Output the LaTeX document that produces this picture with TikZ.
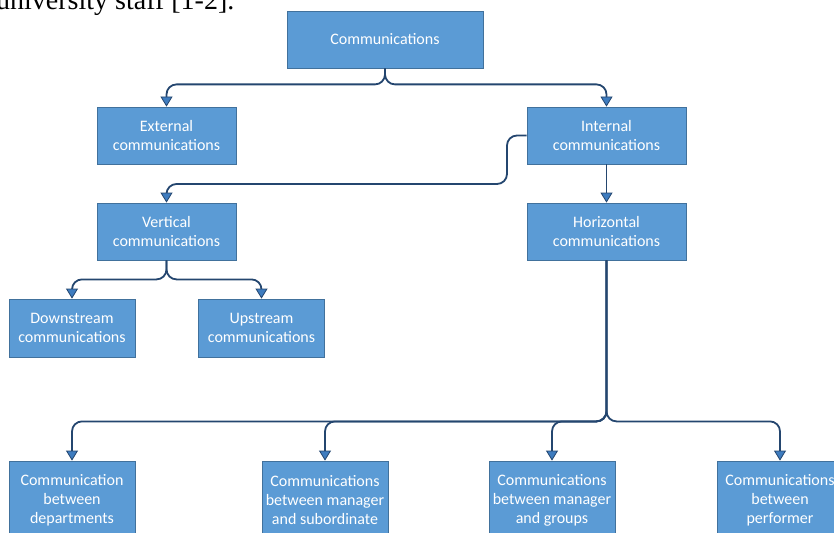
\documentclass[tikz,border=0pt]{standalone}
\usepackage{fontspec}
\setmainfont{Carlito}
\newfontfamily\capfont{Liberation Serif}
\usetikzlibrary{arrows.meta}
\definecolor{boxBlue}{HTML}{5B9BD5}
\definecolor{boxEdge}{HTML}{41719C}
\definecolor{lineNavy}{HTML}{24466F}
\definecolor{tipBlue}{HTML}{3E7CBF}

\begin{document}
\begin{tikzpicture}[x=1pt, y=-1pt]

    % Page frame
    \useasboundingbox (0,0) rectangle (834,532);

    % Boxes
    \tikzset{nB/.style={draw=boxEdge, fill=boxBlue, text=white, line width=0.8pt, align=center,
        font=\fontsize{16}{19}\selectfont, inner sep=0pt}}
    \tikzset{topB/.style={nB, minimum width=196pt, minimum height=57pt}}
    \tikzset{midB/.style={nB, minimum width=139pt, minimum height=57pt}}
    \tikzset{wideB/.style={nB, minimum width=159pt, minimum height=57pt}}
    \tikzset{lowB/.style={nB, minimum width=126pt, minimum height=58pt}}
    \tikzset{endB/.style={nB, minimum width=126pt, minimum height=79pt}}

    % Connectors
    \tikzset{conn/.style={draw=lineNavy, line width=1.8pt, rounded corners=10pt,
        -{Triangle[width=12pt, length=10pt, fill=tipBlue, line width=0.8pt]}}}

    % Cut caption above
    \node (cap) [anchor=base west, inner sep=0pt, font=\capfont\fontsize{28}{30}\selectfont] at (-4, 10) {university staff [1-2].};

    % Tree nodes
    \node (comm) [topB] at (385, 39.5) {Communications};
    	\node (ext) [midB] at (166.5, 135.5) {External\\communications};
    	\node (int) [wideB] at (606.5, 135.5) {Internal\\communications};
    		\node (vert) [midB] at (166.5, 231.5) {Vertical\\communications};
    			\node (down) [lowB] at (72, 328) {Downstream\\communications};
    			\node (up) [lowB] at (261.5, 328) {Upstream\\communications};
    		\node (hor) [wideB] at (606.5, 231.5) {Horizontal\\communications};
    			\node (dep) [endB] at (72, 500.5) {Communication\\between\\departments};
    			\node (sub) [endB] at (325, 500.5) {Communications\\between manager\\and subordinate};
    			\node (grp) [endB] at (552, 500.5) {Communications\\between manager\\and groups};
    			\node (perf) [endB] at (780, 500.5) {Communications\\between\\performer};

    % Bend points
    \coordinate (bendI) at (507, 184);

    % Links
    \path[conn] (comm.south) -- ++(0,16) -| (ext.north);
    \path[conn] (comm.south) -- ++(0,16) -| (int.north);
    	\path[conn] (int.west) -| (bendI) -| (vert.north);
    		\path[conn] (vert.south) -- ++(0,19) -| (down.north);
    		\path[conn] (vert.south) -- ++(0,19) -| (up.north);
    	\path[conn] (int.south) -- (hor.north);
    		\path[conn] (hor.south) -- ++(0,161) -| (dep.north);
    		\path[conn] (hor.south) -- ++(0,161) -| (sub.north);
    		\path[conn] (hor.south) -- ++(0,161) -| (grp.north);
    		\path[conn] (hor.south) -- ++(0,161) -| (perf.north);

\end{tikzpicture}
\end{document}
